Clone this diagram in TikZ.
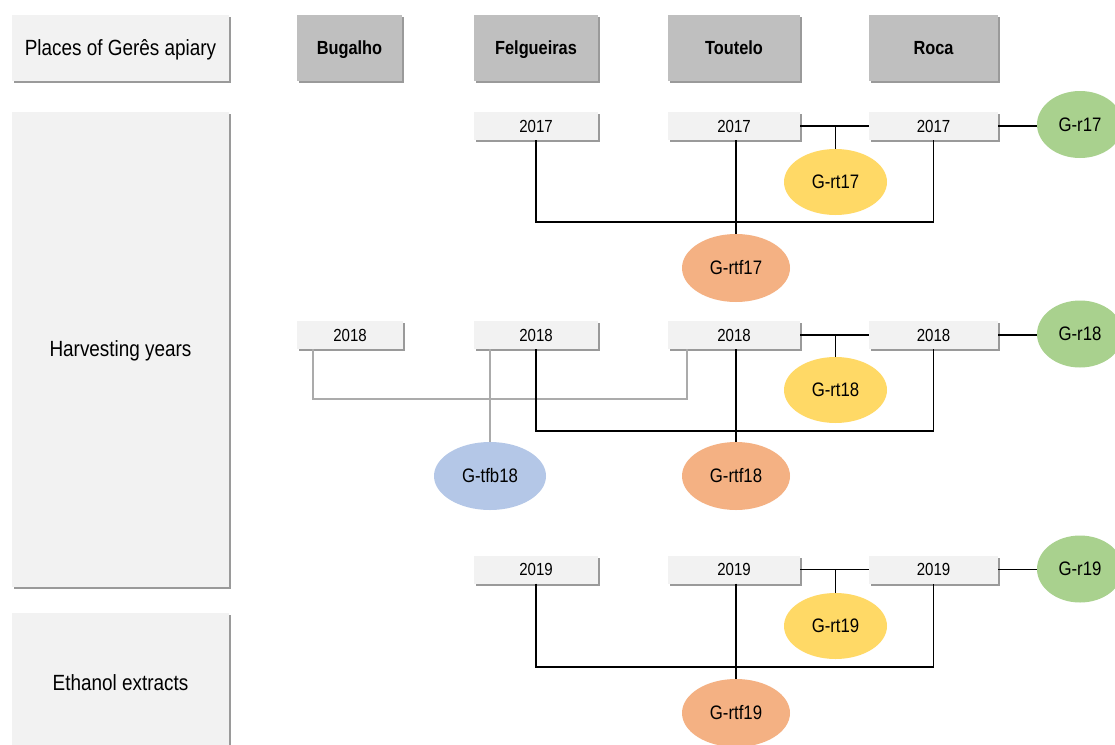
\documentclass[tikz,border=0pt]{standalone}
\usepackage{fontspec}
\setmainfont{Liberation Sans}[FakeStretch=0.86]
\usetikzlibrary{shadows,shapes.geometric}
\definecolor{boxlight}{HTML}{F2F2F2}
\definecolor{boxdark}{HTML}{BFBFBF}
\definecolor{shadowc}{HTML}{9A9A9A}
\definecolor{cgreen}{HTML}{A9D18E}
\definecolor{cyellow}{HTML}{FFD966}
\definecolor{corange}{HTML}{F4B183}
\definecolor{cblue}{HTML}{B4C7E7}
\definecolor{lgray}{HTML}{ABABAB}
\tikzset{
  shad/.style={general shadow={fill=shadowc, shadow xshift=2pt, shadow yshift=-2pt}},
  labelbox/.style={shad, text height=15.8pt, text depth=0pt, fill=boxlight, inner sep=0pt, outer sep=0pt, minimum width=217pt, font=\fontsize{22}{24}\selectfont},
  placebox/.style={shad, text height=13.7pt, text depth=0pt, fill=boxdark, inner sep=0pt, outer sep=0pt, minimum height=66pt, font=\fontsize{19}{21}\selectfont\bfseries},
  yearbox/.style={shad, text height=12.6pt, text depth=0pt, fill=boxlight, inner sep=0pt, outer sep=0pt, minimum height=28pt, font=\fontsize{17.5}{19}\selectfont},
  grp/.style={ellipse, text height=13.9pt, text depth=0pt, inner sep=0pt, outer sep=0pt, font=\fontsize{19.5}{22}\selectfont},
  gr/.style={grp, fill=cgreen, minimum width=86pt, minimum height=67pt},
  grt/.style={grp, fill=cyellow, minimum width=103pt, minimum height=66pt},
  grtf/.style={grp, fill=corange, minimum width=108pt, minimum height=68pt},
  gtfb/.style={grp, fill=cblue, minimum width=112pt, minimum height=68pt},
  blk/.style={draw=black, line width=1.5pt},
  gry/.style={draw=lgray, line width=1.5pt},
}
\begin{document}
\begin{tikzpicture}[x=1pt,y=-1pt]
\clip (0,0) rectangle (1115,744);
\fill[white] (0,0) rectangle (1115,744);
% left labels
\node[labelbox, minimum height=66pt] (L1) at (120.5,48) {Places of Gerês apiary};
\node[labelbox, minimum height=475pt] (L2) at (120.5,349) {Harvesting years};
\node[labelbox, minimum height=140pt] (L3) at (120.5,683) {Ethanol extracts};
% places
\node[placebox, minimum width=105pt] (PB) at (349.5,48) {Bugalho};
\node[placebox, minimum width=124pt] (PF) at (536,48) {Felgueiras};
\node[placebox, minimum width=132pt] (PT) at (734,48) {Toutelo};
\node[placebox, minimum width=129pt] (PR) at (933.5,48) {Roca};
% 2017
\node[yearbox, minimum width=124pt] (F17) at (536,126) {2017};
\node[yearbox, minimum width=132pt] (T17) at (734,126) {2017};
\node[yearbox, minimum width=129pt] (R17) at (933.5,126) {2017};
\node[gr] (Gr17) at (1080,124.5) {G-r17};
\node[grt] (Grt17) at (835.5,182) {G-rt17};
\node[grtf] (Grtf17) at (736,268) {G-rtf17};
\coordinate (j17) at (737,222);
% 2018
\node[yearbox, minimum width=106pt] (B18) at (350,335) {2018};
\node[yearbox, minimum width=124pt] (F18) at (536,335) {2018};
\node[yearbox, minimum width=132pt] (T18) at (734,335) {2018};
\node[yearbox, minimum width=129pt] (R18) at (933.5,335) {2018};
\node[gr] (Gr18) at (1080,334) {G-r18};
\node[grt] (Grt18) at (835.5,390) {G-rt18};
\node[grtf] (Grtf18) at (736,476) {G-rtf18};
\node[gtfb] (Gtfb18) at (490,476) {G-tfb18};
\coordinate (j18) at (737,431);
\coordinate (g18) at (500,399);
% 2019
\node[yearbox, minimum width=124pt] (F19) at (536,569.5) {2019};
\node[yearbox, minimum width=132pt] (T19) at (734,569.5) {2019};
\node[yearbox, minimum width=129pt] (R19) at (933.5,569.5) {2019};
\node[gr] (Gr19) at (1080,569) {G-r19};
\node[grt] (Grt19) at (835.5,626) {G-rt19};
\node[grtf] (Grtf19) at (736,713) {G-rtf19};
\coordinate (j19) at (737,667);
% connectors 2017
\draw[blk] (T17.east) -- (R17.west);
\draw[blk] (Grt17.north) -- (Grt17.north |- T17.east);
\draw[blk] (R17.east) -- (R17.east -| Gr17.west);
\draw[blk] (F17.south) -- (F17.south |- j17) -- (R17.south |- j17) -- (R17.south);
\draw[blk] (Grtf17.north |- T17.south) -- (Grtf17.north);
% connectors 2018
\draw[gry] ([xshift=16pt]B18.south west) -- ([xshift=16pt]B18.south west |- g18) -- ([xshift=19pt]T18.south west |- g18) -- ([xshift=19pt]T18.south west);
\draw[gry] (Gtfb18.north |- F18.south) -- (Gtfb18.north);
\draw[blk] (T18.east) -- (R18.west);
\draw[blk] (Grt18.north) -- (Grt18.north |- T18.east);
\draw[blk] (R18.east) -- (R18.east -| Gr18.west);
\draw[blk] (F18.south) -- (F18.south |- j18) -- (R18.south |- j18) -- (R18.south);
\draw[blk] (Grtf18.north |- T18.south) -- (Grtf18.north);
% connectors 2019
\draw[blk] (T19.east) -- (R19.west);
\draw[blk] (Grt19.north) -- (Grt19.north |- T19.east);
\draw[blk] (R19.east) -- (R19.east -| Gr19.west);
\draw[blk] (F19.south) -- (F19.south |- j19) -- (R19.south |- j19) -- (R19.south);
\draw[blk] (Grtf19.north |- T19.south) -- (Grtf19.north);
\end{tikzpicture}
\end{document}
